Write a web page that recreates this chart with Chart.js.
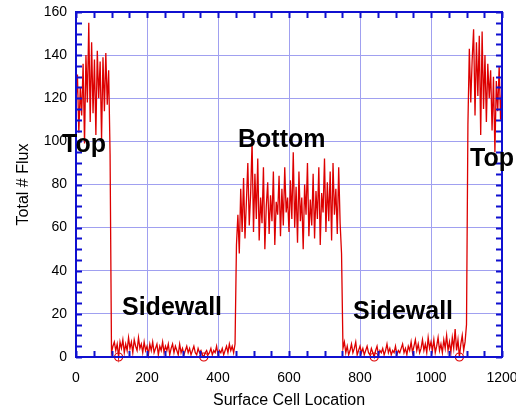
<!DOCTYPE html>
<html>
<head>
<meta charset="utf-8">
<script src="https://cdn.jsdelivr.net/npm/chart.js@4/dist/chart.umd.min.js"></script>
<style>
  html, body { margin: 0; padding: 0; background: #fff; }
  canvas { display: block; }
</style>
</head>
<body>
<canvas id="fluxChart" width="516" height="410"></canvas>
<script>
// cell spacing of the sampled series
const cellStep = 4;

// Top face, cells 0..96
const topLeft = [118, 131, 104, 125, 112, 136, 99, 140, 118, 155, 109, 146, 113, 138, 103, 142, 120, 137, 101, 139, 114, 141, 117, 133, 94];

// left sidewall, cells 100..448
const sideLeft = [
  2, 5, 7, 3, 6, 0, 7, 4, 8, 2,
  6, 3, 9, 4, 7, 2, 8, 5, 3, 9,
  4, 6, 2, 7, 3, 5, 1, 6, 3, 7,
  2, 4, 6, 1, 5, 3, 7, 2, 5, 3,
  6, 1, 4, 6, 2, 5, 3, 1, 6, 2,
  4, 1, 3, 5, 2, 4, 1, 3, 5, 2,
  1, 4, 2, 3, 1, 0, 2, 3, 1, 2,
  4, 1, 3, 2, 5, 1, 3, 2, 4, 1,
  3, 5, 2, 6, 3, 5, 2, 6
];

// bottom, cells 452..748
const bottom = [
  52, 66, 48, 78, 58, 83, 55, 72, 90, 61,
  76, 100, 58, 85, 64, 92, 54, 74, 62, 88,
  50, 70, 81, 57, 75, 63, 86, 52, 72, 66,
  84, 56, 78, 61, 88, 67, 74, 58, 82, 64,
  95, 60, 79, 53, 86, 63, 74, 50, 80, 66,
  90, 56, 73, 61, 85, 55, 77, 64, 88, 52,
  76, 67, 92, 58, 81, 63, 86, 54, 90, 66,
  78, 57, 88, 62, 48
];

// right sidewall, cells 752..1100
const sideRight = [
  4, 7, 2, 5, 1, 3, 6, 2, 4, 7,
  1, 3, 5, 2, 4, 1, 3, 5, 2, 1,
  4, 2, 0, 3, 5, 1, 3, 2, 4, 1,
  3, 6, 2, 4, 1, 3, 2, 5, 1, 3,
  2, 4, 6, 2, 4, 1, 5, 3, 7, 2,
  5, 8, 3, 6, 2, 4, 8, 3, 6, 2,
  9, 4, 7, 3, 8, 2, 5, 9, 3, 6,
  2, 8, 4, 10, 3, 7, 2, 9, 4, 13,
  3, 8, 0, 6, 10, 3, 7, 15
];

// Top face again, cells 1104..1200
const topRight = [108, 143, 118, 138, 152, 112, 146, 121, 149, 103, 151, 115, 140, 109, 136, 120, 133, 105, 130, 95, 128, 114, 135, 110, 126];

// cells where the plot symbol is visible
const markerCells = [120, 360, 840, 1080];

const xTicks = [0, 200, 400, 600, 800, 1000, 1200];
const yTicks = [0, 20, 40, 60, 80, 100, 120, 140, 160];

const labels = [
  { text: 'Top', x: 62, y: 152 },
  { text: 'Bottom', x: 238, y: 147 },
  { text: 'Top', x: 470, y: 166 },
  { text: 'Sidewall', x: 122, y: 315 },
  { text: 'Sidewall', x: 353, y: 319 }
];

const series = [...topLeft, ...sideLeft, ...bottom, ...sideRight, ...topRight];
const points = series.map((v, i) => ({ x: i * cellStep, y: v }));

Chart.defaults.font.family = '"Liberation Sans", Arial, sans-serif';
Chart.defaults.color = '#000';

const frameBlue = '#1010d0';

// inward minor ticks, the frame and the region labels
const frameAndLabels = {
  id: 'frameAndLabels',
  afterDatasetsDraw(chart) {
    const { ctx, chartArea } = chart;
    const { left, right, top, bottom: bot } = chartArea;
    const x = chart.scales.x, y = chart.scales.y;
    ctx.save();
    ctx.strokeStyle = frameBlue;
    ctx.lineWidth = 2;
    ctx.beginPath();
    for (let v = 0; v <= 160; v += 5) {
      const py = Math.round(y.getPixelForValue(v)) + 0.5;
      ctx.moveTo(left, py); ctx.lineTo(left + 6, py);
      ctx.moveTo(right, py); ctx.lineTo(right - 6, py);
    }
    for (let v = 0; v <= 1200; v += 50) {
      const px = Math.round(x.getPixelForValue(v)) + 0.5;
      ctx.moveTo(px, bot); ctx.lineTo(px, bot - 6);
      ctx.moveTo(px, top); ctx.lineTo(px, top + 6);
    }
    ctx.stroke();
    ctx.strokeRect(left, top, right - left, bot - top);

    ctx.fillStyle = '#000';
    ctx.font = 'bold 25px "Liberation Sans", Arial, sans-serif';
    ctx.textAlign = 'left';
    ctx.textBaseline = 'alphabetic';
    labels.forEach(l => ctx.fillText(l.text, l.x, l.y));
    ctx.restore();
  }
};

new Chart(document.getElementById('fluxChart'), {
  type: 'line',
  data: {
    datasets: [{
      data: points,
      borderColor: '#dd0000',
      borderWidth: 1.3,
      tension: 0,
      clip: false,
      pointRadius: c => markerCells.includes(c.raw && c.raw.x) ? 4 : 0,
      pointBorderColor: '#dd0000',
      pointBackgroundColor: 'rgba(255,255,255,0)',
      pointBorderWidth: 1.2
    }]
  },
  options: {
    responsive: false,
    animation: false,
    layout: { padding: { left: 0, right: 14, top: 12, bottom: 0 } },
    plugins: { legend: { display: false }, tooltip: { enabled: false } },
    scales: {
      x: {
        type: 'linear',
        min: 0,
        max: 1200,
        afterBuildTicks: s => { s.ticks = xTicks.map(v => ({ value: v })); },
        afterFit: s => { s.height = 53; s.paddingRight = 0; s.paddingLeft = 0; },
        ticks: { font: { size: 14 }, padding: 13, maxRotation: 0, callback: v => String(v) },
        grid: { color: '#a0a0f0', lineWidth: 1, drawTicks: false },
        border: { display: false },
        title: { display: true, text: 'Surface Cell Location', font: { size: 16 }, padding: { top: 2, bottom: 0 } }
      },
      y: {
        min: 0,
        max: 160,
        afterBuildTicks: s => { s.ticks = yTicks.map(v => ({ value: v })); },
        afterFit: s => { s.width = 76; s.paddingTop = 0; s.paddingBottom = 0; },
        ticks: { font: { size: 14 }, padding: 9, callback: v => String(v) },
        grid: { color: '#a0a0f0', lineWidth: 1, drawTicks: false },
        border: { display: false },
        title: { display: true, text: 'Total # Flux', font: { size: 16 }, padding: { top: 14, bottom: 0 } }
      }
    }
  },
  plugins: [frameAndLabels]
});
</script>
</body>
</html>
